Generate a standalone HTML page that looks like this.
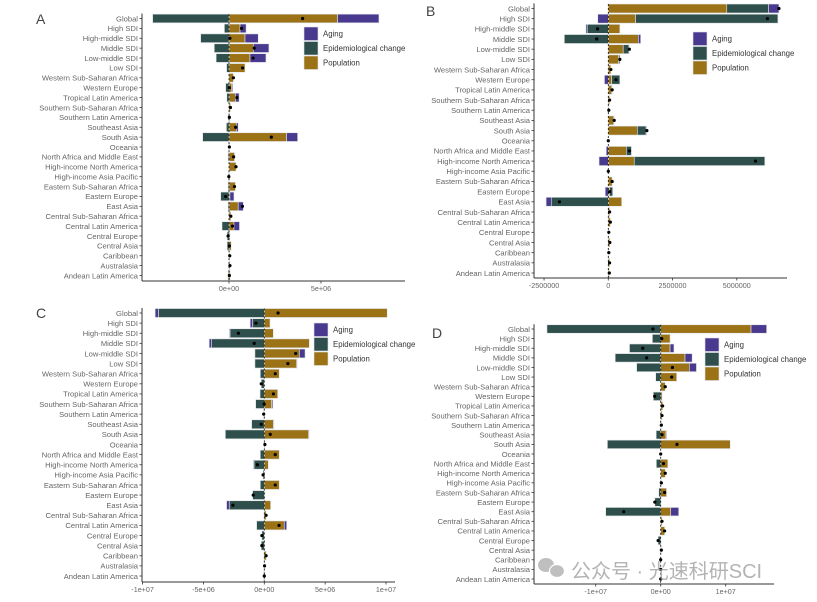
<!DOCTYPE html>
<html><head><meta charset="utf-8">
<style>
html,body{margin:0;padding:0;background:#fff;}
svg{display:block;font-family:"Liberation Sans","Noto Sans CJK SC",sans-serif;}
</style></head>
<body>
<svg id="chart" width="817" height="602" viewBox="0 0 817 602"></svg>
<script>
const categories = ["Global","High SDI","High-middle SDI","Middle SDI","Low-middle SDI","Low SDI","Western Sub-Saharan Africa","Western Europe","Tropical Latin America","Southern Sub-Saharan Africa","Southern Latin America","Southeast Asia","South Asia","Oceania","North Africa and Middle East","High-income North America","High-income Asia Pacific","Eastern Sub-Saharan Africa","Eastern Europe","East Asia","Central Sub-Saharan Africa","Central Latin America","Central Europe","Central Asia","Caribbean","Australasia","Andean Latin America"];
// values in millions
const agingA = [2.25,0.33,0.72,0.85,0.87,0,0,0.05,0.2,0,0,0.1,0.6,0,0,0,0,0,0.22,0.28,0,0.3,0,0,0,0,0];
const epiA   = [-4.15,-0.25,-1.54,-0.8,-0.7,-0.13,0,-0.18,-0.12,0,-0.03,-0.14,-1.43,0,-0.05,0,-0.03,-0.05,-0.45,-0.05,0,-0.38,-0.1,-0.1,0,0,-0.05];
const popA   = [5.9,0.6,0.87,1.32,1.14,0.87,0.24,0.15,0.35,0.08,0.05,0.4,3.13,0.02,0.3,0.38,0.02,0.35,0.05,0.5,0.1,0.27,0.05,0.12,0.04,0.05,0.07];
const agingB = [0.4,-0.41,-0.05,0.09,0.02,0,0,-0.15,0,0,0,0,0.03,0,-0.08,-0.36,0,0,-0.12,-0.2,0,0,0,0,0,0,0];
const epiB   = [1.63,5.54,-0.82,-1.71,0.22,0.05,0,0.32,0.03,0,0,0.03,0.34,0,0.2,5.08,0,0,0.12,-2.22,0,0,0,0,0,0,0];
const popB   = [4.61,1.06,0.45,1.17,0.58,0.4,0.1,0.13,0.12,0.05,0.02,0.2,1.13,0,0.7,1.01,0,0.15,0.05,0.52,0.05,0.08,0.02,0.06,0.02,0.05,0.04];
const agingC = [-0.27,-0.2,-0.05,-0.2,0.47,0.05,0,0,0,0.1,0,0.05,0.05,0,0,-0.05,0,0,0,-0.22,0,0.2,0,0,0,0,0];
const epiC   = [-8.7,-0.96,-2.82,-4.33,-0.77,-0.77,-0.33,-0.25,-0.35,-0.71,-0.05,-1.04,-3.2,0,-0.33,-0.85,-0.1,-0.33,-0.96,-2.88,0,-0.63,-0.2,-0.25,0,0,-0.05];
const popC   = [10.1,0.47,0.74,3.7,2.88,2.66,1.23,0,1.1,0.6,0,0.74,3.64,0.05,1.23,0.33,0,1.23,0.05,0.52,0.15,1.64,0,0.05,0.15,0.02,0.05];
const agingD = [2.4,0,0.6,1.1,1.1,0,0,0,0,0,0,0.1,0,0,0,0,0,0,0,1.23,0,0,0,0,0,0,0];
const epiD   = [-17.5,-1.28,-4.8,-7.0,-3.7,-0.77,0,-1.13,0,0,0,-0.7,-8.2,0,-0.67,0,0,-0.3,-0.9,-8.46,0,0,-0.4,0,0,0,0];
const popD   = [13.9,1.44,1.44,3.74,4.4,2.46,0.7,0.2,0.3,0.2,0.1,0.8,10.7,0,1.1,0.7,0.1,0.9,0,1.54,0.2,0.6,0,0.1,0,0,0];
const ticksA = [0,5]; const tickLabelsA = ["0e+00","5e+06"];
const ticksB = [-2.5,0,2.5,5]; const tickLabelsB = ["-2500000","0","2500000","5000000"];
const ticksC = [-10,-5,0,5,10]; const tickLabelsC = ["-1e+07","-5e+06","0e+00","5e+06","1e+07"];
const ticksD = [-10,0,10]; const tickLabelsD = ["-1e+07","0e+00","1e+07"];

const COL = {aging:"#4a3a8f", epi:"#2e4f4b", pop:"#9b7215"};
const NS = "http://www.w3.org/2000/svg";
const svg = document.getElementById('chart');
function mk(tag, attrs, parent){const e=document.createElementNS(NS,tag);for(const k in attrs)e.setAttribute(k,attrs[k]);(parent||svg).appendChild(e);return e;}

function panel(p){
  const g = mk('g',{});
  
  
  const n = categories.length;
  const step = (p.yLast - p.yFirst)/(n-1);
  const yS = i => p.yFirst + i*step;
  const xS = v => p.zero + v*p.scale;
  const bh = step*0.88;
  // letter
  const lt = mk('text',{x:p.lx,y:p.ly,'font-size':14,fill:'#444'},g); lt.textContent=p.letter;
  
  
  // bars
  categories.forEach((c,i)=>{
    const segs=[['pop',p.pop[i]],['epi',p.epi[i]],['aging',p.aging[i]]];
    let posAcc=0,negAcc=0;
    segs.forEach(([k,v])=>{
      if(!v) return;
      let x0,x1;
      if(v>0){x0=xS(posAcc);posAcc+=v;x1=xS(posAcc);} else {x1=xS(negAcc);negAcc+=v;x0=xS(negAcc);}
      const r=mk('rect',{x:x0,y:yS(i)-bh/2,width:Math.max(0.5,x1-x0),height:bh,fill:COL[k],stroke:'#dfe3e6','stroke-width':0.6},g);
      
      
    });
  });
  // zero dashed line
  mk('line',{x1:p.zero,x2:p.zero,y1:p.yFirst-bh/2,y2:p.axisY,stroke:'#111','stroke-width':0.8,'stroke-dasharray':'2,2'},g);
  // totals
  categories.forEach((c,i)=>{
    const t=p.pop[i]+p.epi[i]+p.aging[i];
    const d=mk('circle',{cx:xS(t),cy:yS(i),r:1.6,fill:'#000'},g);
    
    
  });
  // axes
  mk('line',{x1:p.axisX,x2:p.axisX,y1:p.yFirst-step/2,y2:p.axisY,stroke:'#333','stroke-width':1},g);
  mk('line',{x1:p.axisX,x2:p.xEnd,y1:p.axisY,y2:p.axisY,stroke:'#333','stroke-width':1},g);
  categories.forEach((c,i)=>{
    mk('line',{x1:p.axisX-2.5,x2:p.axisX,y1:yS(i),y2:yS(i),stroke:'#333','stroke-width':0.8},g);
    const t=mk('text',{x:p.axisX-4,y:yS(i)+2.8,'font-size':7.6,fill:'#666','text-anchor':'end'},g);
    t.textContent=c;
    
    
  });
  p.ticks.forEach((v,j)=>{
    mk('line',{x1:xS(v),x2:xS(v),y1:p.axisY,y2:p.axisY+2.5,stroke:'#333','stroke-width':0.8},g);
    const t=mk('text',{x:xS(v),y:p.axisY+10,'font-size':7.2,fill:'#666','text-anchor':'middle'},g);
    t.textContent=p.tickLabels[j];
    
    
  });
  // legend
  const lg=mk('g',{},g);
  
  
  [['aging','Aging'],['epi','Epidemiological change'],['pop','Population']].forEach(([k,lab],j)=>{
    const y=p.legY+j*14.5;
    mk('rect',{x:p.legX,y:y,width:14,height:13.5,fill:COL[k],stroke:'#dfe3e6','stroke-width':0.6},lg);
    const t=mk('text',{x:p.legX+19,y:y+9.5,'font-size':7.8,fill:'#333'},lg);
    t.textContent=lab;
    
    
  });
}
panel({letter:'A',lx:36,ly:24,aging:agingA,epi:epiA,pop:popA,ticks:ticksA,tickLabels:tickLabelsA,zero:229,scale:18.4,yFirst:18.5,yLast:275.5,axisX:142,axisY:281,xEnd:405,legX:304,legY:27});
panel({letter:'B',lx:426,ly:16,aging:agingB,epi:epiB,pop:popB,ticks:ticksB,tickLabels:tickLabelsB,zero:608.3,scale:25.7,yFirst:8.5,yLast:273,axisX:534,axisY:278,xEnd:787,legX:693,legY:32});
panel({letter:'C',lx:36,ly:318,aging:agingC,epi:epiC,pop:popC,ticks:ticksC,tickLabels:tickLabelsC,zero:264.3,scale:12.17,yFirst:313,yLast:576,axisX:142,axisY:582,xEnd:395,legX:314,legY:323});
panel({letter:'D',lx:432,ly:338,aging:agingD,epi:epiD,pop:popD,ticks:ticksD,tickLabels:tickLabelsD,zero:660.7,scale:6.5,yFirst:329,yLast:579,axisX:534,axisY:584,xEnd:774,legX:705,legY:338});

// watermark
const wm=mk('g',{opacity:0.75});


mk('ellipse',{cx:546,cy:565,rx:8,ry:7,fill:'#aaa'},wm);
mk('ellipse',{cx:557,cy:571,rx:7.5,ry:6.5,fill:'#aaa',stroke:'#fff','stroke-width':1.2},wm);
const wt=mk('text',{x:571,y:578,'font-size':20,fill:'#9a9a9a'},wm);
wt.textContent='公众号 · 光速科研SCI';
</script>
</body></html>
